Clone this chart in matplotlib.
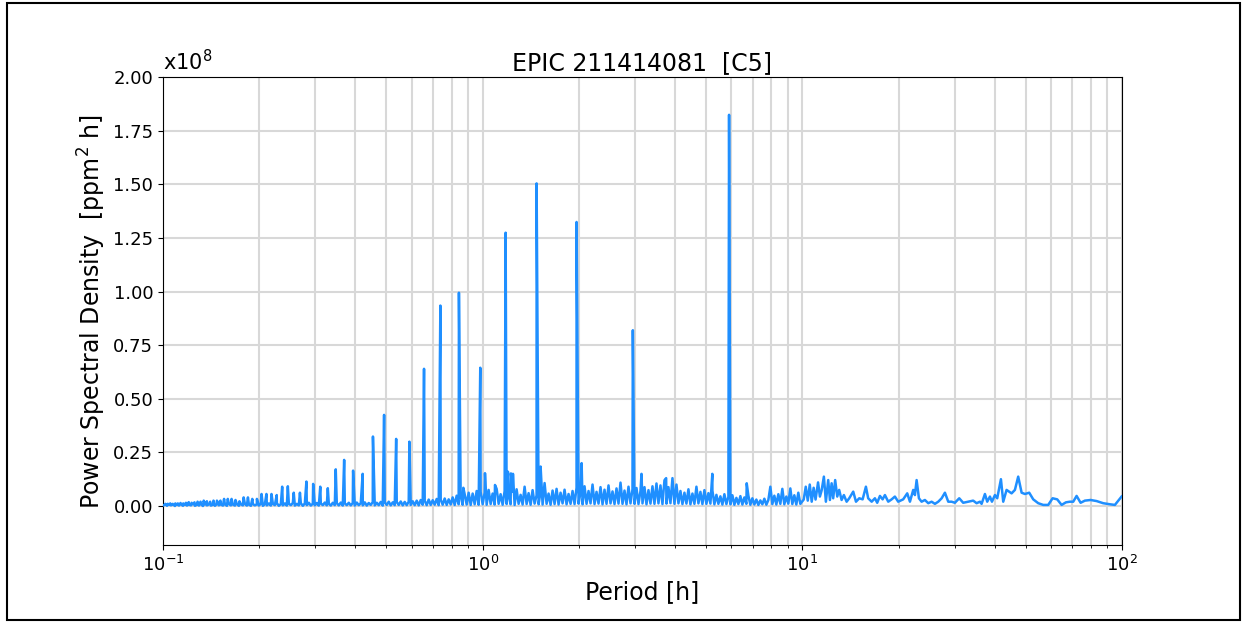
import numpy as np
import matplotlib
matplotlib.use("Agg")
import matplotlib.pyplot as plt
from matplotlib.patches import Rectangle

# ---------------- data (PSD in units of 1e8 ppm^2 h) ----------------
# harmonic peaks (period [h], height)
harm_period = [5.900, 2.950, 1.967, 1.475, 1.180, 0.983, 0.843, 0.7375, 0.6556, 0.590,
               0.5364, 0.4917, 0.4538, 0.4214, 0.3933, 0.3688, 0.3471, 0.3278, 0.3105, 0.2950,
               0.2810, 0.2682, 0.2565, 0.2458, 0.2360, 0.2269, 0.2185, 0.2107, 0.2034, 0.1967,
               0.1903, 0.1844, 0.1788, 0.1735, 0.1686, 0.1639, 0.1595, 0.1553, 0.1513, 0.1475,
               0.1439, 0.1405, 0.1372, 0.1341, 0.1311, 0.1283, 0.1255, 0.1229, 0.1204, 0.1180,
               0.1157, 0.1135, 0.1113, 0.1093, 0.1073, 0.1054, 0.1035, 0.1017]
harm_height = [1.825, 0.82, 1.325, 1.505, 1.275, 0.645, 0.995, 0.935, 0.64, 0.30,
               0.313, 0.425, 0.324, 0.15, 0.165, 0.215, 0.171, 0.083, 0.09, 0.103,
               0.114, 0.062, 0.062, 0.092, 0.09, 0.051, 0.056, 0.056, 0.056, 0.033,
               0.033, 0.04, 0.04, 0.022, 0.028, 0.033, 0.033, 0.033, 0.025, 0.025,
               0.025, 0.02, 0.022, 0.025, 0.02, 0.02, 0.017, 0.015, 0.018, 0.015,
               0.012, 0.014, 0.012, 0.012, 0.01, 0.012, 0.01, 0.01]

# secondary (non-harmonic) spikes
extra_period = [0.87, 1.017, 1.093, 1.20, 1.226, 1.244, 1.518, 2.04, 3.14, 3.75, 5.23, 6.70]
extra_height = [0.085, 0.153, 0.098, 0.16, 0.152, 0.15, 0.184, 0.20, 0.15, 0.13, 0.15, 0.106]

# noise floor, 0.1 h -> 1 h (160 log-spaced samples, units of 1e-3)
noise_a = [2, 7, 1, 6, 3, 8, 0, 5, 2, 9, 1, 6, 2, 7, 3, 8, 1, 6, 2, 9, 0, 7, 3, 8, 2, 6, 1, 9, 3, 7,
           2, 8, 1, 10, 3, 7, 2, 9, 1, 8, 3, 10, 2, 7, 1, 9, 3, 8,
           2, 11, 1, 9, 3, 12, 2, 10, 4, 13, 1, 9, 3, 12, 2, 11, 4, 14, 2, 10, 3, 13, 1, 12, 4, 15,
           2, 11, 3, 14, 2, 12, 4, 16, 3, 11, 2, 15, 4, 13, 3, 16, 2, 12, 4, 15, 3, 14, 2, 16, 4, 13,
           3, 17, 2, 14, 5, 18, 3, 15, 4, 19, 2, 16, 5, 20, 3, 17, 4, 18, 5, 21, 3, 19, 4, 20, 5,
           22, 4, 25, 3, 28, 6, 24, 4, 30, 5, 27, 6, 33, 4, 29, 6, 35, 5, 31, 7,
           40, 5, 48, 8, 45, 6, 55, 7, 62, 5, 58, 8, 70, 6, 65]

# noise floor, 1 h -> 10 h (160 log-spaced samples, units of 1e-3)
noise_b = [8, 62, 6, 75, 9, 58, 7, 80, 10,
           55, 6, 70, 9, 48, 8, 66, 5, 78, 10, 52, 7, 90, 9, 60, 6, 74, 11, 50, 8, 68, 7, 107, 10,
           58, 6, 72, 9, 80, 7, 62, 12, 76, 8, 56, 10, 70,
           9, 85, 11, 64, 8, 92, 10, 70, 12, 100, 9, 66, 11, 88, 8, 76, 10, 96, 12, 68, 9, 82, 11,
           109, 10, 72, 8, 90, 12, 78,
           10, 84, 9, 70, 12, 88, 8, 74, 11, 92, 10,
           105, 12, 96, 9, 120, 11, 88, 13, 130, 10, 100, 12,
           70, 9, 62, 11, 78, 8, 58, 10, 90, 12, 66, 9, 74, 10, 60, 11, 72,
           8, 52, 10, 45, 7, 55, 9,
           42, 8, 50, 6, 38, 9, 46, 7, 40, 10, 48, 6, 36,
           7, 30, 5, 26, 8, 34, 6, 28,
           90, 9, 48, 7, 55, 10, 80, 8, 44, 11, 82, 9, 50, 7, 62, 10]

# long-period part (resolved samples)
tail_period = [10.1, 10.25, 10.4, 10.55, 10.7, 10.85, 11.0, 11.2,
               11.35, 11.49, 11.68, 11.85, 12.05, 12.20, 12.35, 12.49, 12.67, 12.86,
               13.04, 13.27, 13.49, 13.76, 14.02, 14.43, 14.72, 15.07, 15.44, 15.81,
               16.07, 16.48, 16.87, 17.15, 17.49, 17.83, 18.13, 18.57, 19.03, 19.48,
               19.95, 20.68, 21.29, 21.71, 22.23, 22.50, 22.78, 23.16, 23.61, 24.18,
               24.77, 25.38, 25.99, 26.62, 27.28, 27.93, 28.61, 29.31, 30.01, 30.96,
               31.86, 33.03, 34.24, 35.09, 35.95, 36.38, 37.26, 37.88, 38.63, 39.19,
               40.04, 40.71, 41.81, 42.51, 43.55, 45.15, 46.24, 47.35, 48.53, 49.70,
               51.26, 52.76, 54.70, 56.70, 58.77, 60.67, 62.71, 64.73, 66.77, 68.71,
               70.38, 72.11, 74.22, 76.55, 79.76, 83.28, 87.34, 91.65, 95.01, 99.7]
tail_value = [0.03, 0.09, 0.025, 0.10, 0.02, 0.085, 0.03, 0.11,
              0.044, 0.072, 0.137, 0.02, 0.121, 0.028, 0.106, 0.036, 0.121, 0.044,
              0.075, 0.028, 0.051, 0.02, 0.036, 0.067, 0.02, 0.036, 0.031, 0.09,
              0.036, 0.02, 0.036, 0.015, 0.047, 0.031, 0.051, 0.02, 0.031, 0.044,
              0.02, 0.031, 0.059, 0.02, 0.075, 0.051, 0.121, 0.036, 0.02, 0.028,
              0.013, 0.02, 0.01, 0.02, 0.036, 0.062, 0.02, 0.02, 0.015, 0.036,
              0.015, 0.02, 0.025, 0.013, 0.02, 0.01, 0.056, 0.02, 0.044, 0.02,
              0.051, 0.036, 0.125, 0.02, 0.075, 0.059, 0.075, 0.137, 0.062, 0.056,
              0.062, 0.031, 0.013, 0.005, 0.005, 0.036, 0.031, 0.005, 0.017, 0.02,
              0.02, 0.047, 0.015, 0.025, 0.028, 0.023, 0.013, 0.008, 0.005, 0.044]

# ---------------- assemble series ----------------
grid_a = np.logspace(-1, 0, len(noise_a), endpoint=False)
grid_b = np.logspace(0, 1, len(noise_b), endpoint=False)
period = np.concatenate([grid_a, grid_b, tail_period, harm_period, extra_period])
power = np.concatenate([np.array(noise_a) / 1000.0, np.array(noise_b) / 1000.0,
                        tail_value, harm_height, extra_height])
order = np.argsort(period)
period = period[order]
power = power[order]

# ---------------- plot ----------------
fig = plt.figure(figsize=(12.45, 6.23), dpi=100)
ax = fig.add_axes([0.1309, 0.1252, 0.7703, 0.7507])

ax.plot(period, power, color='#1f8fff', lw=1.8, zorder=3)

ax.set_xscale('log')
ax.set_xlim(0.1, 100)
ax.set_ylim(-0.182, 2.0)
yt = [0.0, 0.25, 0.5, 0.75, 1.0, 1.25, 1.5, 1.75, 2.0]
ax.set_yticks(yt)
ax.set_yticklabels(['%.2f' % v for v in yt])

ax.set_axisbelow(True)
ax.grid(True, which='major', axis='both', color='#d8d8d8', lw=1.5)
ax.grid(True, which='minor', axis='x', color='#d8d8d8', lw=1.5)

ax.tick_params(axis='both', which='major', labelsize=13)
ax.set_xlabel('Period [h]', fontsize=17)
ax.set_ylabel('Power Spectral Density  [ppm$^2$ h]', fontsize=17)
ax.set_title('EPIC 211414081  [C5]', fontsize=17, pad=5)
ax.text(0.0, 1.006, 'x10$^8$', transform=ax.transAxes, ha='left', va='bottom', fontsize=15)

# figure border
fig.patches.append(Rectangle((7 / 1245, 3 / 623), 1233 / 1245, 617 / 623,
                             transform=fig.transFigure, fill=False,
                             edgecolor='black', lw=1.5))

fig.savefig('out.png', dpi=100)
